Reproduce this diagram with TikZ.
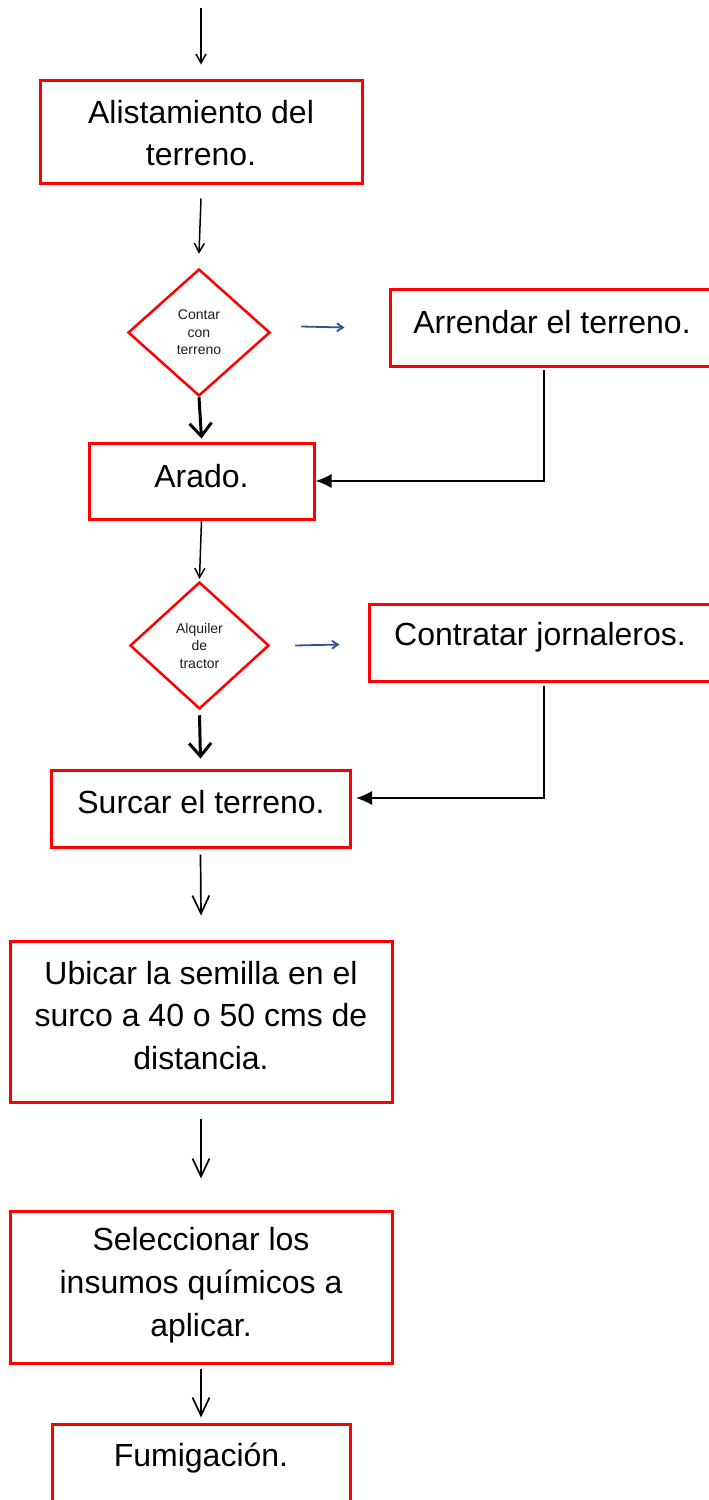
\documentclass[tikz,border=0pt]{standalone}
\usepackage{fontspec}
\setmainfont{Liberation Sans}
\usetikzlibrary{arrows.meta,shapes.geometric}
\definecolor{boxred}{RGB}{255,0,0}
\definecolor{arrblue}{RGB}{47,85,140}
\definecolor{smalltxt}{RGB}{30,30,30}
\begin{document}
\begin{tikzpicture}[x=1pt,y=-1pt,
  box/.style={draw=boxred,line width=3pt,inner sep=0pt},
  dia/.style={draw=boxred,line width=2.5pt,shape=diamond,inner sep=0pt,
    minimum width=142pt,minimum height=127pt,
    font=\fontsize{14}{17.5}\selectfont,align=center,text=smalltxt},
  big/.style={font=\fontsize{32}{42.8}\selectfont,align=center,inner sep=0pt},
  flowsm/.style={-{Straight Barb[length=9pt,width=10pt]},line width=1.5pt},
  flowbig/.style={-{Straight Barb[length=18pt,width=17pt]},line width=1.7pt},
  flowthick/.style={-{Straight Barb[length=13pt,width=22pt]},line width=3pt},
  blueflow/.style={-{Straight Barb[length=6pt,width=8pt]},draw=arrblue,line width=1.8pt},
  elbow/.style={-{Latex[length=16pt,width=14pt]},line width=1.5pt},
]
\clip (0,0) rectangle (709,1500);
\fill[white] (0,0) rectangle (709,1500);

% boxes
\node[box,minimum width=322pt,minimum height=103pt] (b1) at (201,131.5) {};
\node[big] (t1) at (201,133) {Alistamiento del\\terreno.};

\node[dia] (d1) at (199,332.5) {Contar\\con\\terreno};

\node[box,minimum width=330pt,minimum height=77pt] (arr) at (555,327.5) {};
\node[big] (tarr) at (552,322) {Arrendar el terreno.};

\node[box,minimum width=225pt,minimum height=76pt] (arado) at (201.5,481) {};
\node[big] (tarado) at (201.5,476) {Arado.};

\node[dia,minimum width=139pt] (d2) at (199.5,645.5) {Alquiler\\de\\tractor};

\node[box,minimum width=350pt,minimum height=77pt] (con) at (544,642.5) {};
\node[big] (tcon) at (540,637) {Contratar jornaleros.};

\node[box,minimum width=299pt,minimum height=77pt] (sur) at (200.5,808.5) {};
\node[big] (tsur) at (201,802) {Surcar el terreno.};

\node[box,minimum width=382pt,minimum height=161pt] (ubi) at (201,1021.5) {};
\node[big] (tubi) at (201,1015.5) {Ubicar la semilla en el\\surco a 40 o 50 cms de\\distancia.};

\node[box,minimum width=382pt,minimum height=152pt] (sel) at (201,1287) {};
\node[big] (tsel) at (201,1285) {Seleccionar los\\insumos químicos a\\aplicar.};

\node[box,minimum width=298pt,minimum height=110pt] (fum) at (201,1479) {};
\node[big] (tfum) at (201,1458) {Fumigación.};

% connectors
\coordinate (start) at (201,8);
\draw[flowsm] (start) -- ([yshift=14pt]b1.north);
\draw[flowsm] ([yshift=-14pt]b1.south) -- ([yshift=14pt]d1.north);
\draw[blueflow] ([xshift=30pt,yshift=6pt]d1.east) -- ([xshift=-44pt]arr.west);
\draw[flowthick] (d1.south) -- ([yshift=3pt]arado.north);
\coordinate (c1) at (544,370);
\draw[elbow] (c1) |- (arado.east);
\draw[flowsm] (arado.south) -- ([yshift=2pt]d2.north);
\draw[blueflow] ([xshift=25pt]d2.east) -- ([xshift=-28pt,yshift=-2pt]con.west);
\draw[flowthick] ([yshift=-5pt]d2.south) -- ([yshift=10pt]sur.north);
\coordinate (c2) at (544,686);
\coordinate (c2e) at (356,798);
\draw[elbow] (c2) |- (c2e);
\draw[flowbig] ([yshift=-6pt]sur.south) -- ([yshift=24pt]ubi.north);
\draw[flowbig] ([yshift=-15pt]ubi.south) -- ([yshift=31pt]sel.north);
\draw[flowbig] ([yshift=-4pt]sel.south) -- ([yshift=5pt]fum.north);
\end{tikzpicture}
\end{document}
